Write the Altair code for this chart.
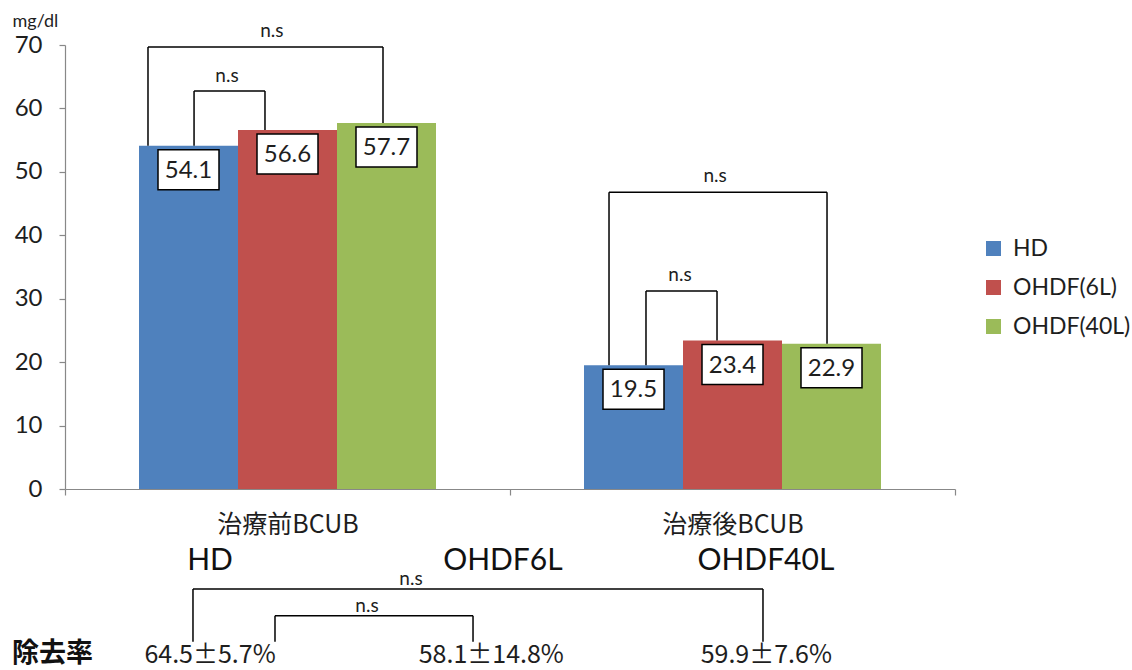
import altair as alt
import pandas as pd

# ---------------- data ----------------
categories = ["治療前BCUB", "治療後BCUB"]
series = ["HD", "OHDF(6L)", "OHDF(40L)"]
hd_values = [54.1, 19.5]
ohdf6_values = [56.6, 23.4]
ohdf40_values = [57.7, 22.9]
series_colors = ["#4F81BD", "#C0504D", "#9BBB59"]
y_ticks = [0, 10, 20, 30, 40, 50, 60, 70]

# significance brackets above the bars (x in category units 0..2, y in mg/dl)
br_left = [0.1865, 0.290, 1.2225, 1.3056]
br_right = [0.7146, 0.4494, 1.7124, 1.4652]
br_top = [69.7, 62.75, 46.8, 31.2]
br_end_left = [54.1, 54.1, 19.5, 19.5]
br_end_right = [57.7, 56.6, 22.9, 23.4]
ns_x = [0.465, 0.364, 1.461, 1.382]
ns_y = [71.26, 64.17, 48.4, 32.8]

# lower panel: removal rate
mod_labels = ["HD", "OHDF6L", "OHDF40L"]
mod_x = [0.326, 0.984, 1.575]
mod_y = [-12.8, -12.8, -12.8]
rr_title = ["除去率"]
rr_title_x = [-0.119]
rr_title_y = [-27.2]
rr_labels = ["64.5±5.7%", "58.1±14.8%", "59.9±7.6%"]
rr_x = [0.326, 0.958, 1.576]
rr_y = [-27.5, -27.5, -27.5]
rr_br_left = [0.2876, 0.4719]
rr_br_right = [1.5685, 0.9169]
rr_br_top = [-15.77, -20.0]
rr_br_end_left = [-24.1, -24.1]
rr_br_end_right = [-24.1, -24.1]
rr_ns_x = [0.7775, 0.6787]
rr_ns_y = [-15.13, -19.39]

# ---------------- tables ----------------
rows = []
for s, vals in zip(series, [hd_values, ohdf6_values, ohdf40_values]):
    for c, v in zip(categories, vals):
        rows.append({"category": c, "series": s, "value": v})
bars_df = pd.DataFrame(rows)


def bracket_segments(lefts, rights, tops, ends_l, ends_r):
    seg = []
    for l, r, t, a, b in zip(lefts, rights, tops, ends_l, ends_r):
        seg.append({"x": l, "x2": l, "y": a, "y2": t})
        seg.append({"x": l, "x2": r, "y": t, "y2": t})
        seg.append({"x": r, "x2": r, "y": b, "y2": t})
    return seg


seg_df = pd.DataFrame(
    bracket_segments(br_left, br_right, br_top, br_end_left, br_end_right)
    + bracket_segments(rr_br_left, rr_br_right, rr_br_top, rr_br_end_left, rr_br_end_right)
)
ns_df = pd.DataFrame({"x": ns_x + rr_ns_x, "y": ns_y + rr_ns_y, "t": ["n.s"] * 6})
mod_df = pd.DataFrame({"x": mod_x, "y": mod_y, "t": mod_labels})
rr_df = pd.DataFrame({"x": rr_x, "y": rr_y, "t": rr_labels})
rrt_df = pd.DataFrame({"x": rr_title_x, "y": rr_title_y, "t": rr_title})

# ---------------- scales ----------------
LATIN = "Lato"
CJK = "Noto Sans CJK JP"
TXT = "#1e1e1e"
AX = "#888888"

y_scale = alt.Scale(domain=[0, 70], nice=False, zero=False)
xq = alt.Scale(domain=[0, 2], nice=False, zero=False)

y_axis = alt.Axis(
    values=y_ticks, grid=False, title="mg/dl", titleAngle=0, titleX=-53,
    titleY=-19, titleAlign="left", titleBaseline="alphabetic", titleFont=LATIN,
    titleFontSize=18, titleFontWeight="normal", titleColor=TXT,
    labelFont=LATIN, labelFontSize=24, labelColor=TXT, labelPadding=17,
    domainColor=AX, tickColor=AX, tickSize=6, domainWidth=1.2, tickWidth=1.2,
)


def Y(field):
    return alt.Y(field, scale=y_scale, axis=y_axis)


x_enc = alt.X(
    "category:N",
    sort=categories,
    scale=alt.Scale(paddingInner=0, paddingOuter=0),
    axis=alt.Axis(
        title=None, labelAngle=0, tickBand="extent", labelFont=CJK,
        labelFontSize=25, labelPadding=17, labelColor=TXT, labelBaseline="top",
        domainColor=AX, tickColor=AX, tickSize=6, domainWidth=1.2, tickWidth=1.2,
    ),
)
xoff_enc = alt.XOffset("series:N", sort=series,
                       scale=alt.Scale(paddingInner=0, paddingOuter=0.7475))

bars = alt.Chart(bars_df).mark_bar().encode(
    x=x_enc,
    xOffset=xoff_enc,
    y=Y("value:Q"),
    color=alt.Color(
        "series:N", sort=series,
        scale=alt.Scale(domain=series, range=series_colors),
        legend=alt.Legend(
            title=None, orient="none", legendX=917, legendY=192, symbolType="square",
            symbolSize=225, symbolStrokeWidth=0, labelFont=LATIN, labelFontSize=23,
            labelColor=TXT, rowPadding=15, labelOffset=8, padding=0,
        ),
    ),
)

box_path = "M-1,-0.656H1V0.656H-1Z"
boxes = alt.Chart(bars_df).mark_point(
    shape=box_path, size=61 * 61, filled=True, color="white", stroke="black",
    strokeWidth=1.5, opacity=1, yOffset=24,
).encode(
    x=alt.X("category:N", sort=categories),
    xOffset=alt.XOffset("series:N", sort=series),
    y=Y("value:Q"),
)
values_txt = alt.Chart(bars_df).mark_text(
    font=LATIN, fontSize=24, color=TXT, baseline="middle", align="center", yOffset=25,
).encode(
    x=alt.X("category:N", sort=categories),
    xOffset=alt.XOffset("series:N", sort=series),
    y=Y("value:Q"),
    text=alt.Text("value:Q", format=".1f"),
)

bar_layer = alt.layer(bars, boxes, values_txt)

rules = alt.Chart(seg_df).mark_rule(color="black", strokeWidth=1.5).encode(
    x=alt.X("x:Q", scale=xq, axis=None),
    x2="x2:Q",
    y=Y("y:Q"),
    y2="y2:Q",
)
ns_txt = alt.Chart(ns_df).mark_text(
    font=LATIN, fontSize=19, color=TXT, baseline="alphabetic", align="center"
).encode(
    x=alt.X("x:Q", scale=xq, axis=None),
    y=Y("y:Q"),
    text="t:N",
)
mod_txt = alt.Chart(mod_df).mark_text(
    font=LATIN, fontSize=30, color="#111111", baseline="alphabetic", align="center"
).encode(
    x=alt.X("x:Q", scale=xq, axis=None),
    y=Y("y:Q"),
    text="t:N",
)
rr_txt = alt.Chart(rr_df).mark_text(
    font=CJK, fontSize=25, color=TXT, baseline="alphabetic", align="center"
).encode(
    x=alt.X("x:Q", scale=xq, axis=None),
    y=Y("y:Q"),
    text="t:N",
)
rrt_txt = alt.Chart(rrt_df).mark_text(
    font=CJK, fontSize=27, fontWeight="bold", color="#111111",
    baseline="alphabetic", align="left"
).encode(
    x=alt.X("x:Q", scale=xq, axis=None),
    y=Y("y:Q"),
    text="t:N",
)

ann_layer = alt.layer(rules, ns_txt, mod_txt, rr_txt, rrt_txt)

chart = (
    alt.layer(bar_layer, ann_layer)
    .resolve_scale(x="independent")
    .properties(
        width=890, height=444,
        autosize=alt.AutoSizeParams(type="none"),
        padding={"left": 65, "top": 45, "right": 177, "bottom": 181},
        background="white",
    )
    .configure_view(stroke=None)
)

chart.save("out.html", embed_options={"renderer": "svg", "actions": False})
